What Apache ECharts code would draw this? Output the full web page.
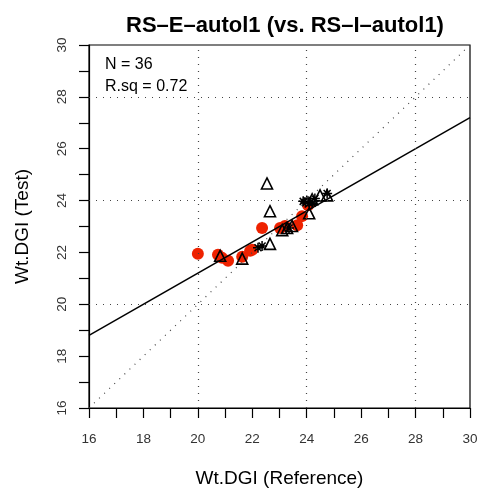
<!DOCTYPE html>
<html><head><meta charset="utf-8">
<script src="https://cdn.jsdelivr.net/npm/echarts@6/dist/echarts.min.js"></script>
<style>html,body{margin:0;padding:0;background:#fff}#c{width:481px;height:493px}</style>
</head><body><div id="c"></div>
<script>
var titleText = 'RS\u2013E\u2013autol1 (vs. RS\u2013I\u2013autol1)';
var xName = 'Wt.DGI (Reference)';
var yName = 'Wt.DGI (Test)';
var statN = 'N = 36';
var statR = 'R.sq = 0.72';
var axisMin = 16, axisMax = 30;
var gridLinesAt = [20, 24, 28];
var fitIntercept = 9.2, fitSlope = 0.6;

var redPoints = [[20.0,21.95],[20.74,21.91],[20.89,21.79],[21.11,21.68],[21.63,21.83],[21.92,22.06],[22.0,22.1],[22.36,22.94],[23.02,22.94],[23.2,23.02],[23.65,23.05],[23.83,23.4],[24.05,23.82]];
var triPoints = [[20.82,21.87],[21.63,21.76],[22.54,24.66],[22.65,23.59],[22.65,22.33],[23.1,22.86],[23.28,22.94],[23.46,23.02],[24.09,23.51],[24.49,24.2],[24.75,24.2],[24.2,24.05]];
var starPoints = [[22.21,22.18],[22.36,22.25],[23.35,22.94],[23.87,23.97],[24.05,23.97],[24.2,23.9],[24.3,24.08],[24.0,24.0],[24.75,24.27],[24.1,23.9],[23.95,23.92]];

var chart = echarts.init(document.getElementById('c'), null, {renderer:'canvas'});
var font = 'Liberation Sans';
var fitLine = [[axisMin, fitIntercept + fitSlope*axisMin],[axisMax, fitIntercept + fitSlope*axisMax]];
var diag = [[axisMin, axisMin],[axisMax, axisMax]];
var mlData = [];
gridLinesAt.forEach(function(v){ mlData.push({xAxis:v}); mlData.push({yAxis:v}); });
var asterisk = 'path://M0,5L10,5M5,0L5,10M1.5,1.5L8.5,8.5M1.5,8.5L8.5,1.5';

function axisCommon(){
  return {
    type:'value', min:axisMin, max:axisMax, interval:2,
    axisLine:{show:true, lineStyle:{color:'#000', width:1.2}},
    axisTick:{show:true, inside:false, length:10, lineStyle:{color:'#000', width:1.2}},
    minorTick:{show:true, splitNumber:2, length:10, lineStyle:{color:'#000', width:1.2}},
    splitLine:{show:false},
    axisLabel:{color:'#333', fontFamily:font, fontSize:13.5},
    nameLocation:'middle', nameTextStyle:{color:'#000', fontFamily:font, fontSize:19}
  };
}
var xa = axisCommon(); xa.name = xName; xa.nameGap = 61; xa.axisLabel.margin = 24;
var ya = axisCommon(); ya.name = yName; ya.nameGap = 57; ya.axisLabel.rotate = 90; ya.axisLabel.margin = 20;

chart.setOption({
  animation:false,
  title:{text:titleText, left:280, top:10, textAlign:'center', textStyle:{fontFamily:font, fontSize:22, fontWeight:'bold', color:'#000'}},
  grid:{left:89, right:11, top:45, bottom:81, show:true, borderColor:'#000', borderWidth:1.2, backgroundColor:'transparent'},
  xAxis:xa, yAxis:ya,
  graphic:[
    {type:'text', left:105, top:57, style:{text:statN, fontFamily:font, fontSize:16, fill:'#000'}},
    {type:'text', left:105, top:79, style:{text:statR, fontFamily:font, fontSize:16, fill:'#000'}}
  ],
  series:[
    {type:'line', data:diag, symbol:'none', lineStyle:{color:'#444', width:1.2, type:[1,6]}, silent:true,
     markLine:{symbol:'none', silent:true, label:{show:false}, lineStyle:{color:'#444', width:1.2, type:[1,6]}, data:mlData}},
    {type:'line', data:fitLine, symbol:'none', lineStyle:{color:'#000', width:1.6}, silent:true},
    {type:'scatter', data:redPoints, symbol:'circle', symbolSize:12, itemStyle:{color:'#ee2200', opacity:1}},
    {type:'scatter', data:triPoints, symbol:'triangle', symbolSize:11, itemStyle:{color:'rgba(0,0,0,0)', borderColor:'#000', borderWidth:1.6, opacity:1}},
    {type:'scatter', data:starPoints, symbol:asterisk, symbolSize:10, itemStyle:{color:'rgba(0,0,0,0)', borderColor:'#000', borderWidth:1.5, opacity:1}}
  ]
});
</script></body></html>
